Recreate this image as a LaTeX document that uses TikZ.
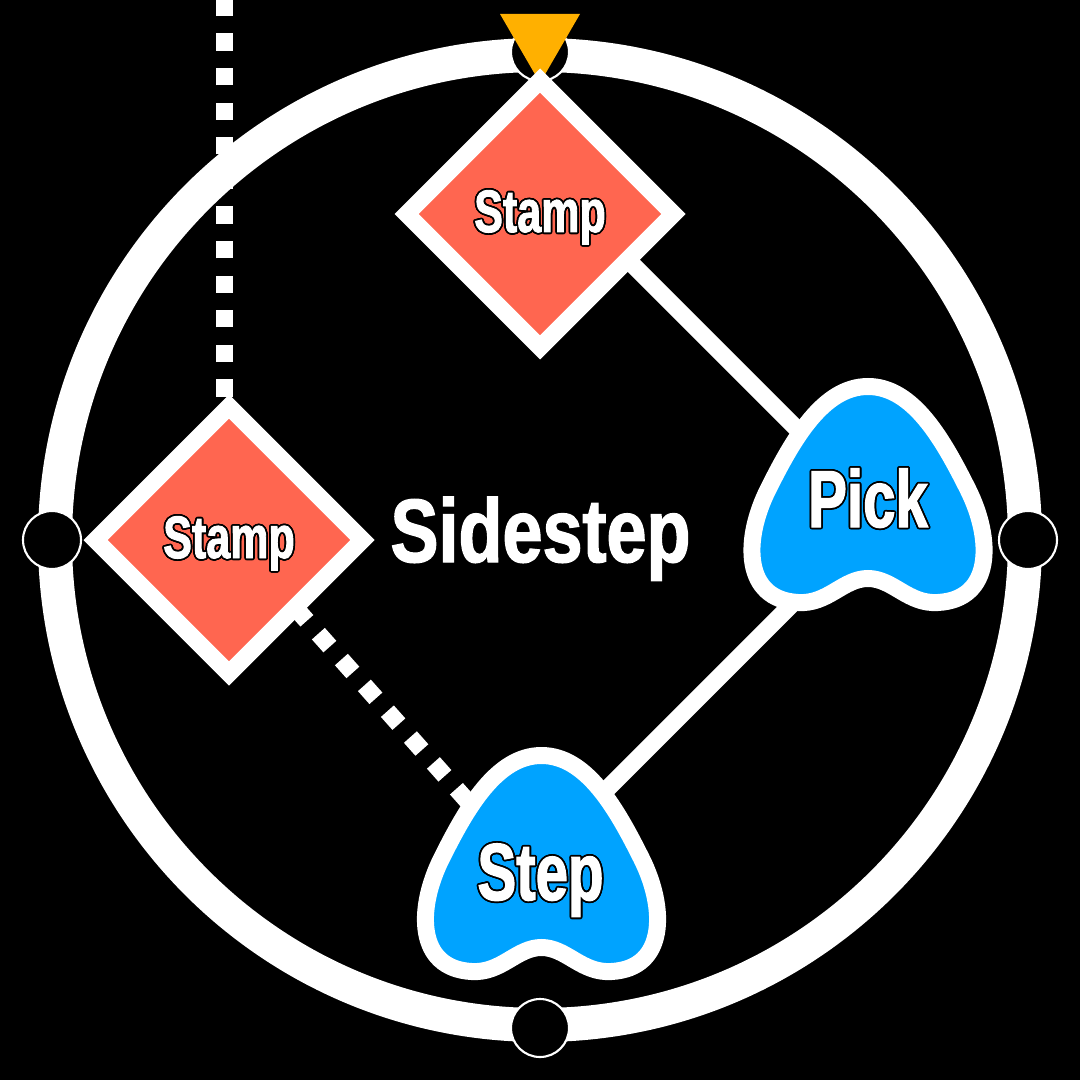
\documentclass[tikz,border=0pt]{standalone}
\usepackage{fontspec}
\usepackage{contour}
\usetikzlibrary{shapes.geometric}
\newfontfamily\labelfont[FakeStretch=0.72, FakeBold=1.5]{Liberation Sans}
\newfontfamily\titlefont[FakeStretch=0.8, FakeBold=1.5]{Liberation Sans}
\contourlength{0.5pt}
\definecolor{coral}{RGB}{255,102,80}
\definecolor{skyblue}{RGB}{0,163,255}
\definecolor{marker}{RGB}{255,176,0}

\begin{document}
\begin{tikzpicture}[
  x=1cm, y=-1cm,
  link/.style={white, line width=0.173cm},
  dotlink/.style={link, dash pattern=on 0.173cm off 0.173cm},
  stamp/.style={diamond, aspect=1, draw=white, fill=coral, line width=0.17cm, inner sep=0pt,
    minimum size=2.74cm, text=white, text height=0.36cm, text depth=0cm,
    font=\labelfont\bfseries\fontsize{17}{17}\selectfont},
  port/.style={circle, draw=white, fill=black, line width=0.6pt, inner sep=0pt, minimum size=0.58cm},
  tag/.style={text=white, anchor=base, font=\labelfont\bfseries\fontsize{23}{23}\selectfont},
  pics/blob/.style={code={
    \draw[white, fill=skyblue, line width=0.17cm]
      (0,-1.08) .. controls (0.45,-1.08) and (0.75,-0.55) .. (1.00,-0.05)
      .. controls (1.25,0.45) and (1.25,1.05) .. (0.70,1.08)
      .. controls (0.40,1.10) and (0.25,0.84) .. (0,0.84)
      .. controls (-0.25,0.84) and (-0.40,1.10) .. (-0.70,1.08)
      .. controls (-1.25,1.05) and (-1.25,0.45) .. (-1.00,-0.05)
      .. controls (-0.75,-0.55) and (-0.45,-1.08) .. (0,-1.08) -- cycle;
  }}
]
\fill[black] (0,0) rectangle (10.8,10.8);
\useasboundingbox (0,0) rectangle (10.8,10.8);

% ring and ports
\draw[white, line width=0.34cm] (5.40,5.40) circle (4.85);
\node[port] (portN) at (5.40,0.52) {};
\node[port] (portE) at (10.28,5.40) {};
\node[port] (portS) at (5.40,10.28) {};
\node[port] (portW) at (0.52,5.40) {};
\fill[marker] (5.00,0.14) -- (5.80,0.14) -- (5.40,0.83) -- cycle;

% hubs under the shapes
\coordinate (topL) at (2.245,0);
\coordinate (stampLV) at (2.245,5.333);
\coordinate (stampLJ) at (2.29,5.333);
\coordinate (stampTJ) at (5.40,1.72);
\coordinate (pickJ) at (8.82,5.14);
\coordinate (stepJ) at (5.275,8.686);

\draw[dotlink, dash phase=0.018cm] (stampLV) -- (topL);
\draw[dotlink, dash phase=0.04cm] (stampLJ) -- (stepJ);
\draw[link] (stampTJ) -- (pickJ);
\draw[link] (pickJ) -- (stepJ);

% shapes
\node[stamp] (stampT) at (5.40,2.14) {\contour{black}{Stamp}};
\node[stamp] (stampL) at (2.29,5.40) {\contour{black}{Stamp}};
\pic at (8.68,4.945) {blob};
\pic at (5.415,8.635) {blob};
\node[tag] (pick) at (8.68,5.27) {\contour{black}{Pick}};
\node[tag] (step) at (5.405,9.00) {\contour{black}{Step}};

\node[text=white, anchor=base, font=\titlefont\bfseries\fontsize{25.6}{25.6}\selectfont] (title) at (5.405,5.62) {Sidestep};
\end{tikzpicture}
\end{document}
